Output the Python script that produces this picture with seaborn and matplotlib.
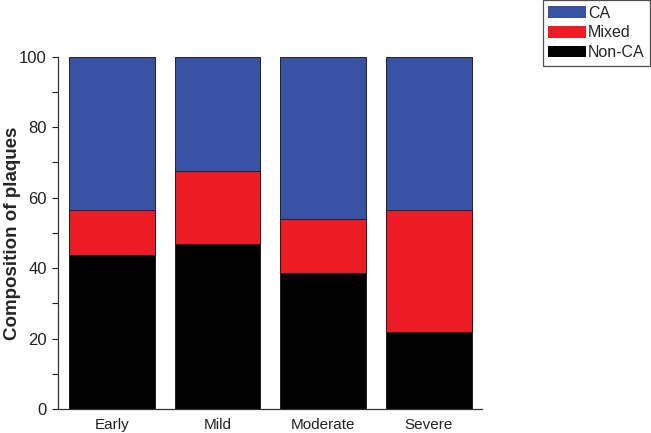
import matplotlib
matplotlib.use("Agg")
import matplotlib.pyplot as plt
from matplotlib.patches import Patch
from matplotlib.ticker import MultipleLocator
import seaborn as sns
import pandas as pd
import numpy as np

# plaque composition per stage (percent)
stages = ["Early", "Mild", "Moderate", "Severe"]
non_ca = [43.8, 47.0, 38.6, 22.0]
mixed = [12.6, 20.6, 15.3, 34.4]
ca = [43.6, 32.4, 46.1, 43.6]

colors = {"CA": "#3953A4", "Mixed": "#ED1C24", "Non-CA": "#000000"}

df = pd.DataFrame({"stage": stages, "Non-CA": non_ca, "Mixed": mixed, "CA": ca})
df["lvl_noca"] = df["Non-CA"]
df["lvl_mixed"] = df["Non-CA"] + df["Mixed"]
df["lvl_ca"] = df["lvl_mixed"] + df["CA"]

sns.set_style("ticks")
plt.rcParams["font.family"] = ["Liberation Sans", "DejaVu Sans"]

fig = plt.figure(figsize=(6.51, 4.33), dpi=100)
ax = fig.add_axes([0.089, 0.055, 0.651, 0.814])

# stacked by drawing cumulative levels from top to bottom
for col, name in [("lvl_ca", "CA"), ("lvl_mixed", "Mixed"), ("lvl_noca", "Non-CA")]:
    sns.barplot(data=df, x="stage", y=col, color=colors[name], saturation=1,
                width=0.81, edgecolor="#222222", linewidth=0.7, ax=ax)

ax.set_ylim(0, 100)
ax.set_xlim(-0.51, 3.5)
ax.yaxis.set_major_locator(MultipleLocator(20))
ax.yaxis.set_minor_locator(MultipleLocator(10))
ax.tick_params(axis="y", which="both", direction="out", length=4, width=0.8,
               labelsize=12, colors="#222222", pad=4)
ax.tick_params(axis="x", length=0, labelsize=11, colors="#222222", pad=6)
ax.set_xlabel("")
ax.set_ylabel("Composition of plaques", fontsize=13.5, fontweight="bold")
ax.yaxis.set_label_coords(-0.088, 0.5)
for s in ["top", "right"]:
    ax.spines[s].set_visible(False)
for s in ["left", "bottom"]:
    ax.spines[s].set_color("#333333")
    ax.spines[s].set_linewidth(0.9)

handles = [Patch(facecolor=colors[n], edgecolor="none") for n in ["CA", "Mixed", "Non-CA"]]
leg = fig.legend(handles, ["CA", "Mixed", "Non-CA"], loc="upper right",
                 bbox_to_anchor=(0.999, 1.0), frameon=True, fancybox=False,
                 fontsize=11.5, handlelength=2.35, handleheight=0.75,
                 handletextpad=0.15, labelspacing=0.3, borderpad=0.35,
                 borderaxespad=0)
leg.get_frame().set_edgecolor("#222222")
leg.get_frame().set_linewidth(0.9)

fig.savefig("out.png", dpi=100)
